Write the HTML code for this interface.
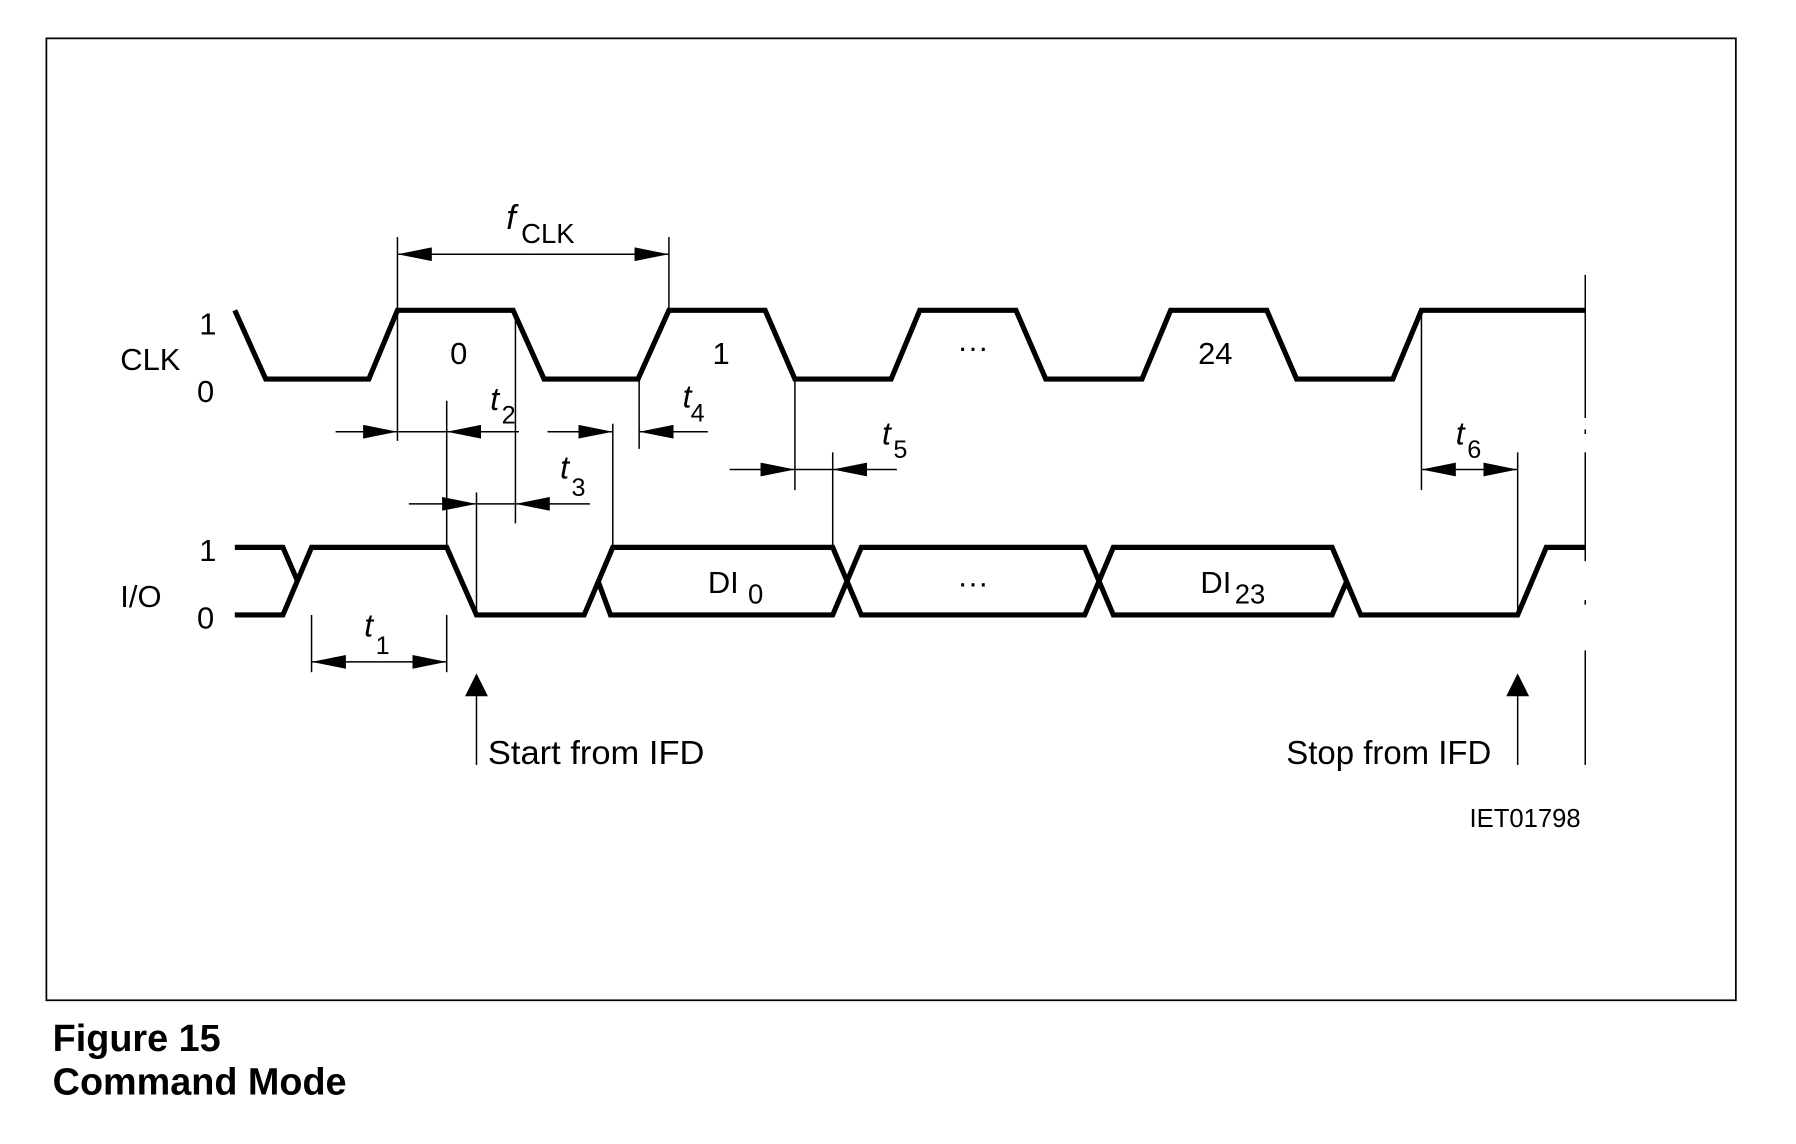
<!DOCTYPE html>
<html><head><meta charset="utf-8"><style>
html,body{margin:0;padding:0;background:#fff;}
svg{display:block;}
text{font-family:"Liberation Sans Narrow","Liberation Sans",sans-serif;fill:#000;}
.b{font-family:"Liberation Sans",sans-serif;font-weight:bold;}
</style></head><body>
<svg width="1796" height="1144" viewBox="0 0 1568 999" preserveAspectRatio="none" xmlns="http://www.w3.org/2000/svg">
<defs>
<marker id="a" viewBox="0 0 30 12" refX="30" refY="6" markerWidth="30" markerHeight="12" markerUnits="userSpaceOnUse" orient="auto"><path d="M0,0 L30,6 L0,12 z" fill="#000"/></marker>
</defs>
<rect x="40.5" y="33.5" width="1475" height="840" fill="none" stroke="#000" stroke-width="1.5"/>
<g fill="none" stroke="#000" stroke-width="4.5" stroke-linejoin="miter">
<polyline points="205,271 232,331 322,331 347,271 448,271 475,331 557,331 584,271 668,271 694,331 778,331 803,271 887,271 913,331 997,331 1022,271 1106,271 1132,331 1216,331 1241,271 1384,271"/>
<polyline points="205,478 247,478 260,508"/>
<polyline points="205,537 247,537 272,478 390,478 416,537 510,537 535,478 727,478 752,537 947,537 972,478 1163,478 1188,537 1325,537 1350,478 1384,478"/>
<polyline points="522,507 533,537 727,537 752,478 947,478 972,537 1163,537 1176,507"/>
</g>
<g stroke="#000" stroke-width="1.3" fill="none">
<line x1="347" y1="207" x2="347" y2="385"/>
<line x1="584" y1="207" x2="584" y2="271"/>
<line x1="390" y1="350" x2="390" y2="478"/>
<line x1="450" y1="271" x2="450" y2="457"/>
<line x1="416" y1="430" x2="416" y2="537"/>
<line x1="535" y1="370" x2="535" y2="478"/>
<line x1="558" y1="331" x2="558" y2="392"/>
<line x1="694" y1="331" x2="694" y2="428"/>
<line x1="727" y1="395" x2="727" y2="478"/>
<line x1="1241" y1="271" x2="1241" y2="428"/>
<line x1="1325" y1="395" x2="1325" y2="537"/>
<line x1="272" y1="537" x2="272" y2="587"/>
<line x1="390" y1="537" x2="390" y2="587"/>
<line x1="1384" y1="240" x2="1384" y2="365"/>
<line x1="1384" y1="375" x2="1384" y2="379"/>
<line x1="1384" y1="395" x2="1384" y2="490"/>
<line x1="1384" y1="524" x2="1384" y2="528"/>
<line x1="1384" y1="568" x2="1384" y2="668"/>
<line x1="466" y1="222" x2="347" y2="222" marker-end="url(#a)"/>
<line x1="466" y1="222" x2="584" y2="222" marker-end="url(#a)"/>
<line x1="293" y1="377" x2="347" y2="377" marker-end="url(#a)"/>
<line x1="453" y1="377" x2="390" y2="377" marker-end="url(#a)"/>
<line x1="347" y1="377" x2="390" y2="377"/>
<line x1="357" y1="440" x2="416" y2="440" marker-end="url(#a)"/>
<line x1="515" y1="440" x2="450" y2="440" marker-end="url(#a)"/>
<line x1="416" y1="440" x2="450" y2="440"/>
<line x1="478" y1="377" x2="535" y2="377" marker-end="url(#a)"/>
<line x1="618" y1="377" x2="558" y2="377" marker-end="url(#a)"/>
<line x1="637" y1="410" x2="694" y2="410" marker-end="url(#a)"/>
<line x1="783" y1="410" x2="727" y2="410" marker-end="url(#a)"/>
<line x1="694" y1="410" x2="727" y2="410"/>
<line x1="1283" y1="410" x2="1241" y2="410" marker-end="url(#a)"/>
<line x1="1283" y1="410" x2="1325" y2="410" marker-end="url(#a)"/>
<line x1="331" y1="578" x2="272" y2="578" marker-end="url(#a)"/>
<line x1="331" y1="578" x2="390" y2="578" marker-end="url(#a)"/>
<line x1="416" y1="600" x2="416" y2="668"/>
<line x1="1325" y1="600" x2="1325" y2="668"/>
</g>
<path d="M416,588 L406,608 L426,608 z" fill="#000"/>
<path d="M1325,588 L1315,608 L1335,608 z" fill="#000"/>
<g font-size="27">
<text x="105" y="323">CLK</text>
<text x="174" y="292">1</text>
<text x="172" y="351">0</text>
<text x="105" y="530">I/O</text>
<text x="174" y="490">1</text>
<text x="172" y="549">0</text>
<text x="393" y="318">0</text>
<text x="622" y="318">1</text>
<text x="836" y="312">···</text>
<text x="1046" y="318">24</text>
<text x="836" y="518">···</text>
<text x="618" y="518">DI</text><text x="653" y="527" font-size="24">0</text>
<text x="1048" y="518">DI</text><text x="1078" y="527" font-size="24">23</text>
<text x="442" y="200" font-style="italic" font-size="30">f</text><text x="455" y="212" font-size="24">CLK</text>
<text x="428" y="358" font-style="italic" font-size="28">t</text><text x="438" y="370" font-size="22">2</text>
<text x="489" y="418" font-style="italic" font-size="28">t</text><text x="499" y="433" font-size="22">3</text>
<text x="596" y="356" font-style="italic" font-size="28">t</text><text x="603" y="368" font-size="22">4</text>
<text x="770" y="388" font-style="italic" font-size="28">t</text><text x="780" y="400" font-size="22">5</text>
<text x="1271" y="388" font-style="italic" font-size="28">t</text><text x="1281" y="400" font-size="22">6</text>
<text x="318" y="556" font-style="italic" font-size="28">t</text><text x="328" y="571" font-size="22">1</text>
<text x="426" y="667" font-size="29" textLength="189" lengthAdjust="spacingAndGlyphs">Start from IFD</text>
<text x="1123" y="667" font-size="29" textLength="179" lengthAdjust="spacingAndGlyphs">Stop from IFD</text>
<text x="1283" y="722" font-size="23" textLength="97" lengthAdjust="spacingAndGlyphs">IET01798</text>
</g>
<text class="b" x="46" y="918" font-size="33">Figure 15</text>
<text class="b" x="46" y="956" font-size="33">Command Mode</text>
</svg>
</body></html>
